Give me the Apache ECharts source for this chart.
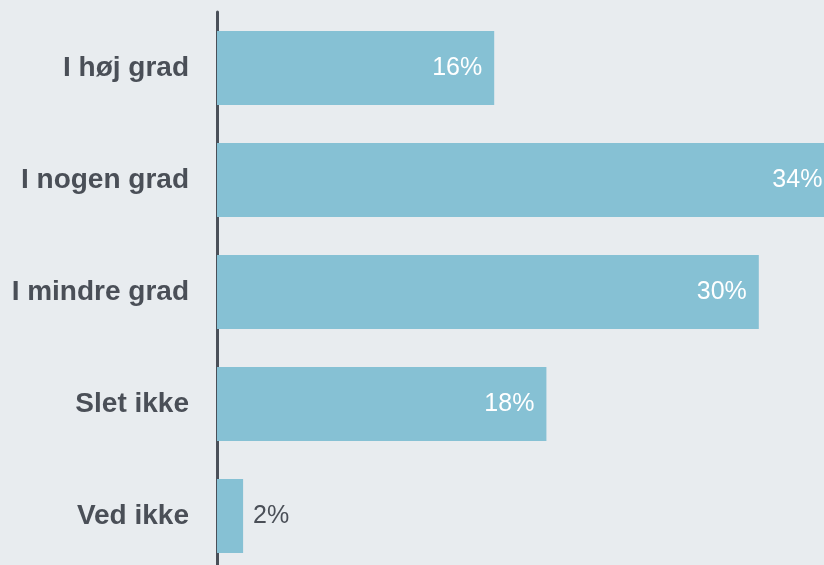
<!DOCTYPE html>
<html><head><meta charset="utf-8">
<script src="https://cdn.jsdelivr.net/npm/echarts@6/dist/echarts.min.js"></script>
<style>html,body{margin:0;padding:0;background:#e8ecef;}#c{width:824px;height:565px;}</style>
</head><body><div id="c"></div>
<script>
const categories = ["I høj grad", "I nogen grad", "I mindre grad", "Slet ikke", "Ved ikke"];
const values = [15.4, 34.3, 30.1, 18.3, 1.45];
const labels = ["16%", "34%", "30%", "18%", "2%"];

const chart = echarts.init(document.getElementById('c'));
chart.setOption({
  backgroundColor: '#e8ecef',
  animation: false,
  grid: {left: 217, width: 720, top: 12, height: 560, outerBoundsMode: 'none', containLabel: false},
  xAxis: {type: 'value', min: 0, max: 40, show: false},
  yAxis: {
    type: 'category', data: categories, inverse: true,
    axisLine: {show: true, lineStyle: {color: '#4a5059', width: 3}},
    axisTick: {show: false},
    axisLabel: {color: '#4a4f57', fontSize: 28, fontWeight: 'bold', fontFamily: 'Liberation Sans', margin: 28}
  },
  series: [{
    type: 'bar', barWidth: 74, itemStyle: {color: '#86c1d4'}, clip: false,
    data: values.map((v, i) => ({
      value: v,
      label: v < 5
        ? {show: true, position: 'right', distance: 10, color: '#4a4f57'}
        : {show: true, position: 'insideRight', distance: 12, color: '#ffffff'}
    })),
    label: {
      fontSize: 25, fontFamily: 'Liberation Sans', fontWeight: 'normal',
      formatter: p => labels[p.dataIndex]
    }
  }]
});
</script></body></html>
